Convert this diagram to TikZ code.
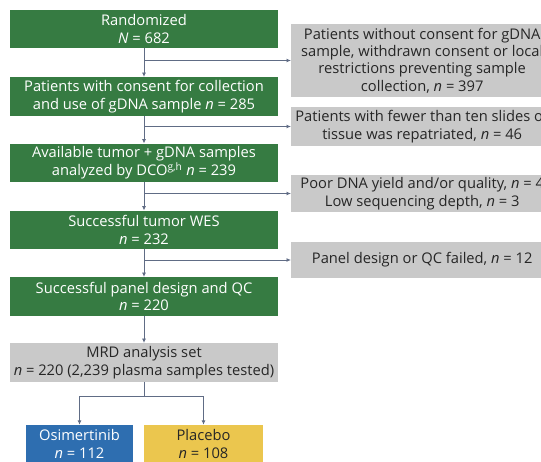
\documentclass[tikz,border=0pt]{standalone}
\usepackage{fontspec}
\setmainfont{Open Sans}
\usepackage{xcolor}
\usetikzlibrary{arrows.meta}

\definecolor{passgreen}{RGB}{54,123,66}
\definecolor{exclgray}{RGB}{201,201,201}
\definecolor{osiblue}{RGB}{46,110,176}
\definecolor{placyellow}{RGB}{235,198,78}
\definecolor{linkgray}{RGB}{96,108,133}
\definecolor{inkgray}{RGB}{38,38,38}

\tikzset{
  box/.style={inner sep=0pt, align=center, minimum width=268pt, minimum height=38.5pt,
    font=\fontsize{14.7}{17.8}\selectfont},
  pass/.style={box, fill=passgreen, text=white},
  excl/.style={box, fill=exclgray, text=inkgray, minimum width=262pt, anchor=west},
  arm/.style={box, minimum height=38pt},
  flow/.style={draw=linkgray, line width=0.9pt, -{Latex[length=4.5pt,width=4pt]}},
}

\begin{document}
\begin{tikzpicture}[x=1pt,y=-1pt]

\useasboundingbox (0,0) rectangle (541,462);
\clip (0,0) rectangle (541,462);

% MAIN COLUMN

% Randomized patients.
\node[pass] (rand) at (144,29) {Randomized\\\textit{N} = 682};

% Consent for gDNA.
\node[pass] (consent) at (144,96.5) {Patients with consent for collection\\and use of gDNA sample \textit{n} = 285};

% Samples analyzed.
\node[pass] (avail) at (144,163) {Available tumor + gDNA samples\\analyzed by DCO\textsuperscript{g,h} \textit{n} = 239};

% Tumor WES.
\node[pass] (wes) at (144,230) {Successful tumor WES\\\textit{n} = 232};

% Panel design.
\node[pass] (panel) at (144,296.5) {Successful panel design and QC\\\textit{n} = 220};

% MRD analysis set.
\node[box, fill=exclgray, text=inkgray] (mrd) at (144,362.5) {MRD analysis set\\\textit{n} = 220 (2,239 plasma samples tested)};

% Treatment arms.
\node[arm, fill=osiblue, text=white, minimum width=107pt] (osi) at (79.5,444) {Osimertinib\\\textit{n} = 112};
\node[arm, fill=placyellow, text=inkgray, minimum width=119pt] (plac) at (203.5,444) {Placebo\\\textit{n} = 108};

% EXCLUSIONS

\node[excl, minimum height=73pt, font=\fontsize{14.7}{17.3}\selectfont] (nocons) at (291,60.5) {Patients without consent for gDNA\\sample, withdrawn consent or local\\restrictions preventing sample\\collection, \textit{n} = 397};
\node[excl, minimum height=39pt] (slides) at (291,126.5) {Patients with fewer than ten slides or\\tissue was repatriated, \textit{n} = 46};
\node[excl, minimum height=37pt] (yield) at (291,193.5) {Poor DNA yield and/or quality, \textit{n} = 4\\Low sequencing depth, \textit{n} = 3};
\node[excl, minimum height=36pt] (qcfail) at (291,260) {Panel design or QC failed, \textit{n} = 12};

% CONNECTIONS

% Down the main column.
\draw[flow] (rand) -- (consent);
\draw[flow] (consent) -- (avail);
\draw[flow] (avail) -- (wes);
\draw[flow] (wes) -- (panel);
\draw[flow] (panel) -- (mrd);

% Off to the exclusions.
\draw[flow] (rand.south |- nocons.west) -- (nocons.west);
\draw[flow] (consent.south |- slides.west) -- (slides.west);
\draw[flow] (avail.south |- yield.west) -- (yield.west);
\draw[flow] (wes.south |- qcfail.west) -- (qcfail.west);

% Split into the two arms.
\draw[flow] (mrd.south) -- ++(0,14) -| (osi.north);
\draw[flow] (mrd.south) -- ++(0,14) -| (plac.north);

\end{tikzpicture}
\end{document}
